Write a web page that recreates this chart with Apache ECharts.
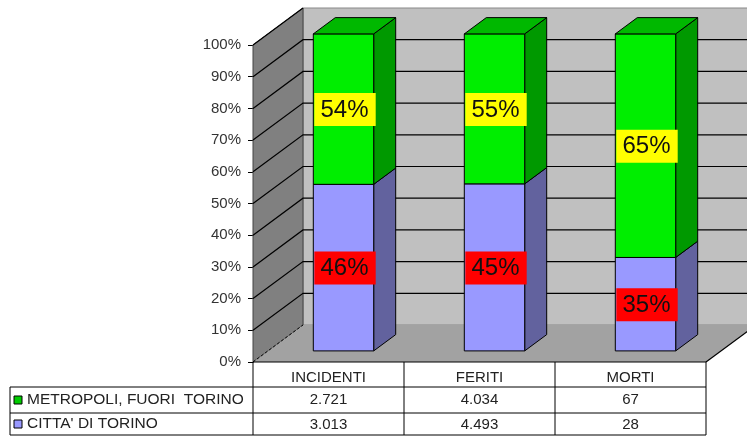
<!DOCTYPE html>
<html>
<head>
<meta charset="utf-8">
<script src="https://cdn.jsdelivr.net/npm/echarts@6/dist/echarts.min.js"></script>
<style>
html, body { margin: 0; padding: 0; background: #fff; }
#myCharts { width: 747px; height: 436px; }
</style>
</head>
<body>
<div id="myCharts"></div>
<script>
// dati
var categories = ["INCIDENTI", "FERITI", "MORTI"];
var metropoli = [2721, 4034, 67];
var citta = [3013, 4493, 28];
var metropoliLabels = ["54%", "55%", "65%"];
var cittaLabels = ["46%", "45%", "35%"];
var yTicks = [0, 10, 20, 30, 40, 50, 60, 70, 80, 90, 100];
var seriesNames = ["METROPOLI, FUORI  TORINO", "CITTA' DI TORINO"];

// prospettiva 3D (spostamento in profondità)
var DX = 50, DY = -37;
var A0 = 0.3, A1 = 0.74;
var FONT = '"Liberation Sans", Arial, sans-serif';

var cittaPct = citta.map(function (v, i) { return v / (v + metropoli[i]) * 100; });

function fmt(n) {
  return String(n).replace(/\B(?=(\d{3})+(?!\d))/g, ".");
}

function barItem(colors, labels, labelColor, isTop) {
  return function (params, api) {
    var i = api.value(0);
    var p0 = api.coord([i, api.value(1)]);
    var p1 = api.coord([i, api.value(2)]);
    var half = api.size([1, 0])[0] * 0.2;
    var fx = DX * A0, fy = DY * A0;
    var sx = DX * (A1 - A0), sy = DY * (A1 - A0);
    var xl = p0[0] - half + fx, xr = p0[0] + half + fx;
    var yb = p0[1] + fy, yt = p1[1] + fy;
    var children = [
      {
        type: "polygon",
        shape: { points: [[xr, yt], [xr + sx, yt + sy], [xr + sx, yb + sy], [xr, yb]] },
        style: { fill: colors.side, stroke: "#000", lineWidth: 1 }
      },
      {
        type: "rect",
        shape: { x: xl, y: yt, width: xr - xl, height: yb - yt },
        style: { fill: colors.front, stroke: "#000", lineWidth: 1 }
      }
    ];
    if (isTop) {
      children.push({
        type: "polygon",
        shape: { points: [[xl, yt], [xl + sx, yt + sy], [xr + sx, yt + sy], [xr, yt]] },
        style: { fill: colors.top, stroke: "#000", lineWidth: 1 }
      });
    }
    var cy = (yb + yt) / 2;
    children.push({
      type: "rect",
      shape: { x: xl + 1, y: cy - 16, width: xr - xl + 1, height: 33 },
      style: { fill: labelColor }
    });
    children.push({
      type: "text",
      style: {
        text: labels[params.dataIndex],
        x: (xl + xr) / 2 + 1, y: cy + 1,
        align: "center", verticalAlign: "middle",
        font: "24px " + FONT, fill: "#111"
      }
    });
    return { type: "group", children: children };
  };
}

const myCharts = echarts.init(document.getElementById("myCharts"));

let option = {
  animation: false,
  grid: { left: 253, right: 41, top: 45, bottom: 74 },
  xAxis: {
    type: "category",
    data: categories,
    axisLine: { show: false },
    axisTick: { show: false },
    axisLabel: { margin: 8, fontSize: 15, fontFamily: FONT, color: "#222" }
  },
  yAxis: {
    type: "value",
    min: 0,
    max: 100,
    interval: 10,
    axisLine: { show: true, lineStyle: { color: "#000" } },
    axisTick: { show: true, length: 5, lineStyle: { color: "#000" } },
    splitLine: { show: false },
    axisLabel: {
      margin: 12,
      fontSize: 15,
      fontFamily: FONT,
      color: "#333",
      formatter: "{value}%"
    }
  },
  series: [
    {
      // pareti, pavimento, griglia e tabella
      type: "custom",
      clip: false,
      silent: true,
      z: 1,
      data: [[0]],
      renderItem: function (params, api) {
        var cs = params.coordSys;
        var x0 = cs.x, x1 = cs.x + cs.width;
        var yb = api.coord([0, 0])[1], yt = api.coord([0, 100])[1];
        var ch = [];
        ch.push({
          type: "polygon",
          shape: { points: [[x0 + DX, yt + DY], [x1 + DX, yt + DY], [x1 + DX, yb + DY], [x0 + DX, yb + DY]] },
          style: { fill: "#c0c0c0", stroke: "#888", lineWidth: 1 }
        });
        ch.push({
          type: "polygon",
          shape: { points: [[x0, yt], [x0 + DX, yt + DY], [x0 + DX, yb + DY], [x0, yb]] },
          style: { fill: "#808080", stroke: "#444", lineWidth: 1 }
        });
        ch.push({
          type: "polygon",
          shape: { points: [[x0, yb], [x1, yb], [x1 + DX, yb + DY], [x0 + DX, yb + DY]] },
          style: { fill: "#a2a2a2" }
        });
        yTicks.forEach(function (v) {
          var y = api.coord([0, v])[1];
          if (v === 0) {
            ch.push({
              type: "line",
              shape: { x1: x0, y1: y, x2: x0 + DX, y2: y + DY },
              style: { stroke: "#000", lineWidth: 1, lineDash: [3, 2] }
            });
            return;
          }
          var pts = [[x0, y], [x0 + DX, y + DY]];
          if (v < 100) pts.push([x1 + DX, y + DY]);
          ch.push({
            type: "polyline",
            shape: { points: pts },
            style: { stroke: "#000", lineWidth: 1.2, fill: null }
          });
        });
        ch.push({
          type: "line",
          shape: { x1: x1, y1: yb, x2: x1 + DX, y2: yb + DY },
          style: { stroke: "#000", lineWidth: 1.2 }
        });
        ch.push({
          type: "line",
          shape: { x1: x0, y1: yb, x2: x1, y2: yb },
          style: { stroke: "#000", lineWidth: 1.2 }
        });
        // tabella: colonna sinistra e righe
        var tl = 10;
        var rows = [yb + 25, yb + 51, yb + 73];
        rows.forEach(function (ry) {
          ch.push({
            type: "line",
            shape: { x1: tl, y1: ry, x2: x1, y2: ry },
            style: { stroke: "#000", lineWidth: 1 }
          });
        });
        ch.push({
          type: "line",
          shape: { x1: tl, y1: rows[0], x2: tl, y2: rows[2] },
          style: { stroke: "#000", lineWidth: 1 }
        });
        ch.push({
          type: "line",
          shape: { x1: x0, y1: yb, x2: x0, y2: rows[2] },
          style: { stroke: "#000", lineWidth: 1 }
        });
        var sw = ["#00cc00", "#9999ff"];
        seriesNames.forEach(function (name, k) {
          var cy = (rows[k] + rows[k + 1]) / 2;
          ch.push({
            type: "rect",
            shape: { x: tl + 4, y: cy - 4, width: 8, height: 8 },
            style: { fill: sw[k], stroke: "#000", lineWidth: 1 }
          });
          ch.push({
            type: "text",
            style: {
              text: name, x: tl + 17, y: cy,
              align: "left", verticalAlign: "middle",
              font: "15.5px " + FONT, fill: "#222"
            }
          });
        });
        return { type: "group", children: ch };
      }
    },
    {
      name: seriesNames[1],
      type: "custom",
      clip: false,
      z: 2,
      data: categories.map(function (c, i) { return [i, 0, cittaPct[i]]; }),
      renderItem: barItem({ front: "#9999ff", side: "#62629e", top: "#7777cc" }, cittaLabels, "#ff0000", false)
    },
    {
      name: seriesNames[0],
      type: "custom",
      clip: false,
      z: 2,
      data: categories.map(function (c, i) { return [i, cittaPct[i], 100]; }),
      renderItem: barItem({ front: "#00ee00", side: "#009900", top: "#00b800" }, metropoliLabels, "#ffff00", true)
    },
    {
      // valori della tabella
      type: "custom",
      clip: false,
      silent: true,
      z: 3,
      data: categories.map(function (c, i) { return [i]; }),
      renderItem: function (params, api) {
        var i = api.value(0);
        var c = api.coord([i, 0]);
        var half = api.size([1, 0])[0] / 2;
        var yb = c[1];
        var ch = [
          {
            type: "line",
            shape: { x1: c[0] + half, y1: yb, x2: c[0] + half, y2: yb + 73 },
            style: { stroke: "#000", lineWidth: 1 }
          }
        ];
        [metropoli[i], citta[i]].forEach(function (v, k) {
          ch.push({
            type: "text",
            style: {
              text: fmt(v), x: c[0], y: yb + 38 + k * 25,
              align: "center", verticalAlign: "middle",
              font: "15px " + FONT, fill: "#222"
            }
          });
        });
        return { type: "group", children: ch };
      }
    }
  ]
};
myCharts.setOption(option);
</script>
</body>
</html>
